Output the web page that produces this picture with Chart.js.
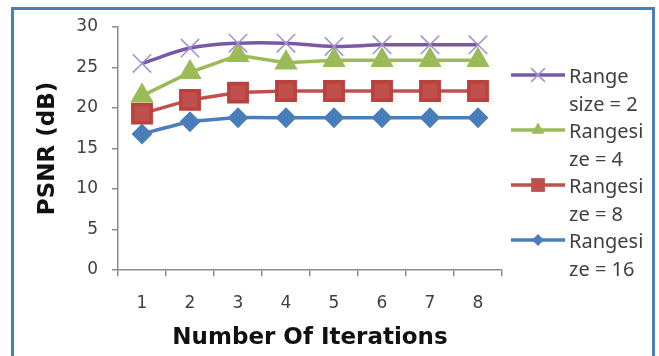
<!doctype html>
<html lang="en">
<head>
<meta charset="utf-8">
<title>PSNR vs iterations</title>
<style>
  html, body { margin: 0; padding: 0; background: #fff; overflow: hidden; }
  .frame { position: absolute; left: 11px; top: 7px; width: 638px; height: 400px; border: 3px solid #4a7ebb; }
  .chart-container { position: absolute; left: 0; top: 0; width: 659px; height: 356px; }
</style>
<script src="https://cdn.jsdelivr.net/npm/chart.js@4/dist/chart.umd.min.js"></script>
</head>
<body>
<div class="frame"></div>
<div class="chart-container">
  <canvas id="psnrChart" width="659" height="356"></canvas>
</div>
<script>
  // data
  const iterations = ['1', '2', '3', '4', '5', '6', '7', '8'];
  const yTicks = [0, 5, 10, 15, 20, 25, 30];
  const size2 = [25.5, 27.4, 28.0, 28.0, 27.6, 27.8, 27.8, 27.8];
  const size4 = [21.5, 24.4, 26.5, 25.6, 25.9, 25.9, 25.9, 25.9];
  const size8 = [19.3, 21.0, 21.9, 22.1, 22.1, 22.1, 22.1, 22.1];
  const size16 = [16.8, 18.3, 18.8, 18.8, 18.8, 18.8, 18.8, 18.8];
  const seriesNames = [['Range', 'size = 2'], ['Rangesi', 'ze = 4'], ['Rangesi', 'ze = 8'], ['Rangesi', 'ze = 16']];

  const tickColour = '#404040';
  const axisColour = '#8c8c8c';

  const datasets = [
    { label: seriesNames[0].join(' '), data: size2, borderColor: '#7b58a6', pointStyle: 'crossRot',
      pointRadius: 13, pointBorderColor: '#a58fcc', pointBorderWidth: 1.5, pointBackgroundColor: '#a58fcc', tension: 0.35 },
    { label: seriesNames[1].join(' '), data: size4, borderColor: '#9bbb59', pointStyle: 'triangle',
      pointRadius: 10, pointBorderColor: '#9bbb59', pointBackgroundColor: '#9bbb59', tension: 0 },
    { label: seriesNames[2].join(' '), data: size8, borderColor: '#c0504d', pointStyle: 'rect',
      pointRadius: 13, pointBorderColor: '#b9413e', pointBackgroundColor: '#c0504d', tension: 0 },
    { label: seriesNames[3].join(' '), data: size16, borderColor: '#4a7ebb', pointStyle: 'rectRot',
      pointRadius: 8, pointBorderColor: '#4a7ebb', pointBackgroundColor: '#4a7ebb', tension: 0.15 }
  ];
  datasets.forEach(d => { d.borderWidth = 3.5; d.fill = false; });

  // hand-drawn legend: labels wrap onto two lines like the original
  function drawMarker(ctx, style, x, y, r, colour) {
    ctx.save();
    ctx.fillStyle = colour;
    ctx.strokeStyle = colour;
    ctx.beginPath();
    if (style === 'crossRot') {
      ctx.lineWidth = 1.5;
      const o = r * Math.SQRT1_2;
      ctx.moveTo(x - o, y - o); ctx.lineTo(x + o, y + o);
      ctx.moveTo(x - o, y + o); ctx.lineTo(x + o, y - o);
      ctx.stroke();
    } else if (style === 'triangle') {
      ctx.moveTo(x, y - r);
      ctx.lineTo(x + r * 0.866, y + r * 0.5);
      ctx.lineTo(x - r * 0.866, y + r * 0.5);
      ctx.closePath(); ctx.fill();
    } else if (style === 'rect') {
      const s = r * Math.SQRT1_2;
      ctx.rect(x - s, y - s, 2 * s, 2 * s); ctx.fill();
    } else {
      ctx.moveTo(x, y - r); ctx.lineTo(x + r, y); ctx.lineTo(x, y + r); ctx.lineTo(x - r, y);
      ctx.closePath(); ctx.fill();
    }
    ctx.restore();
  }

  const sideLegend = {
    id: 'sideLegend',
    afterDraw(chart) {
      const ctx = chart.ctx;
      const x0 = 511, x1 = 565, textX = 569;
      const rowTops = [77, 132, 187, 242];
      ctx.save();
      ctx.font = '20px "Noto Sans"';
      ctx.textBaseline = 'middle';
      ctx.fillStyle = tickColour;
      chart.data.datasets.forEach((ds, i) => {
        const y = rowTops[i];
        ctx.strokeStyle = ds.borderColor;
        ctx.lineWidth = 3.5;
        ctx.beginPath(); ctx.moveTo(x0, y - 2); ctx.lineTo(x1, y - 2); ctx.stroke();
        drawMarker(ctx, ds.pointStyle, (x0 + x1) / 2, y - 2, ds.pointRadius * 0.75, ds.pointBackgroundColor);
        ctx.fillText(seriesNames[i][0], textX, y);
        ctx.fillText(seriesNames[i][1], textX, y + 28);
      });
      ctx.restore();
    }
  };

  new Chart(document.getElementById('psnrChart'), {
    type: 'line',
    data: { labels: iterations, datasets: datasets },
    plugins: [sideLegend],
    options: {
      animation: false,
      responsive: false,
      layout: { padding: { left: 30, right: 157, top: 27, bottom: 0 } },
      plugins: { legend: { display: false }, tooltip: { enabled: false } },
      scales: {
        x: {
          offset: true,
          afterFit: s => { s.height = 86; },
          grid: { display: true, offset: true, drawOnChartArea: false, drawTicks: true, tickLength: 6, color: axisColour, lineWidth: 1.5 },
          border: { display: true, color: axisColour, width: 1.5 },
          ticks: { color: tickColour, font: { family: 'DejaVu Sans', size: 17 }, padding: 17 },
          title: { display: true, text: 'Number Of Iterations', color: '#111', font: { family: 'DejaVu Sans', size: 23, weight: 'bold' }, padding: { top: 0, bottom: 4 } }
        },
        y: {
          min: 0, max: 30,
          afterFit: s => { s.width = 88; },
          afterBuildTicks: s => { s.ticks = yTicks.map(v => ({ value: v })); },
          grid: { display: true, drawOnChartArea: false, drawTicks: true, tickLength: 6, color: axisColour, lineWidth: 1.5 },
          border: { display: true, color: axisColour, width: 1.5 },
          ticks: { color: tickColour, font: { family: 'DejaVu Sans', size: 17 }, padding: 14 },
          title: { display: true, text: 'PSNR (dB)', color: '#111', font: { family: 'DejaVu Sans', size: 23, weight: 'bold' }, padding: { top: 4, bottom: 0 } }
        }
      }
    }
  });
</script>
</body>
</html>
